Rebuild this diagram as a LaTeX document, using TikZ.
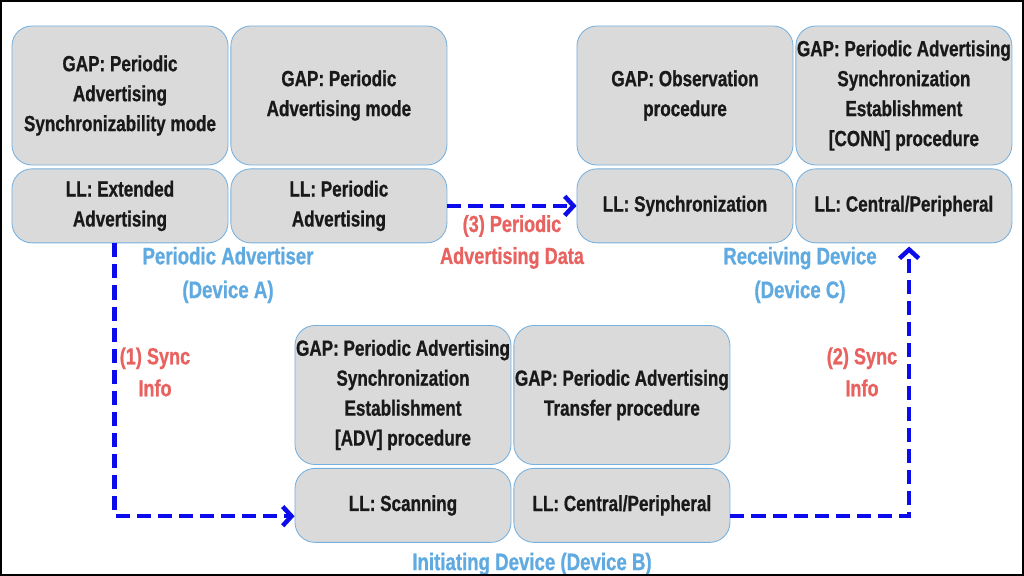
\documentclass[tikz,border=0pt]{standalone}
\usepackage{fontspec}
\setmainfont{Liberation Sans}[FakeStretch=0.78, BoldFeatures={FakeBold=0.8}]
\usetikzlibrary{arrows.meta,positioning}

\definecolor{boxgray}{RGB}{218,218,218}
\definecolor{edgeblue}{RGB}{118,176,222}
\definecolor{devblue}{RGB}{95,170,225}
\definecolor{msgred}{RGB}{232,98,96}
\definecolor{flowblue}{RGB}{12,12,235}

\begin{document}
\begin{tikzpicture}[
    x=0.025cm, y=-0.025cm,
    node distance=0.075cm and 0.05cm,
    layer/.style={draw=edgeblue, fill=boxgray, line width=0.6pt, rounded corners=0.5cm, align=center, inner sep=0pt, minimum width=5.4cm, text=black!90, font=\bfseries\fontsize{15.6}{21.3}\selectfont},
    gapbox/.style={layer, minimum height=3.475cm},
    llbox/.style={layer, minimum height=1.85cm},
    devlabel/.style={align=center, text=devblue, font=\bfseries\fontsize{17}{24}\selectfont},
    msglabel/.style={align=center, text=msgred, font=\bfseries\fontsize{16.5}{22.7}\selectfont},
    flow/.style={draw=flowblue, line width=3.2pt, dash pattern=on 10pt off 5pt, -{Straight Barb[length=0.22cm, width=0.48cm]}}
]
\useasboundingbox (0,0) rectangle (1024,576);
\fill[white] (0,0) rectangle (1024,576);

% Device A
\node[gapbox] (gapA1) at (120,95.5) {GAP: Periodic\\Advertising\\Synchronizability mode};
\node[gapbox, right=of gapA1] (gapA2) {GAP: Periodic\\Advertising mode};
\node[llbox, below=of gapA1] (llA1) {LL: Extended\\Advertising};
\node[llbox, below=of gapA2] (llA2) {LL: Periodic\\Advertising};

% Device C
\node[gapbox] (gapC1) at (685,95.5) {GAP: Observation\\procedure};
\node[gapbox, right=of gapC1] (gapC2) {GAP: Periodic Advertising\\Synchronization\\Establishment\\{[CONN]} procedure};
\node[llbox, below=of gapC1] (llC1) {LL: Synchronization};
\node[llbox, below=of gapC2] (llC2) {LL: Central/Peripheral};

% Device B
\node[gapbox] (gapB1) at (403,395) {GAP: Periodic Advertising\\Synchronization\\Establishment\\{[ADV]} procedure};
\node[gapbox, right=of gapB1] (gapB2) {GAP: Periodic Advertising\\Transfer procedure};
\node[llbox, below=of gapB1] (llB1) {LL: Scanning};
\node[llbox, below=of gapB2] (llB2) {LL: Central/Peripheral};

% device names
\node[devlabel] (devA) at (228,275) {Periodic Advertiser\\(Device A)};
\node[devlabel] (devC) at (800,275) {Receiving Device\\(Device C)};
\node[devlabel] (devB) at (532,564) {Initiating Device (Device B)};

% messages
\draw[flow] ([xshift=-0.14cm]llA1.south) |- ([yshift=-0.27cm]llB1.west);
\draw[flow] ([yshift=-0.27cm]llB2.east) -| ([xshift=0.13cm, yshift=-0.08cm]llC2.south);
\draw[flow] (llA2.east) -- (llC1.west);

\node[msglabel] (msg1) at (155,372) {(1) Sync\\Info};
\node[msglabel] (msg2) at (862,372) {(2) Sync\\Info};
\node[msglabel] (msg3) at (512,242) {(3) Periodic\\Advertising Data};

\draw[line width=3.5pt] (0,0) rectangle (1024,576);
\end{tikzpicture}
\end{document}
